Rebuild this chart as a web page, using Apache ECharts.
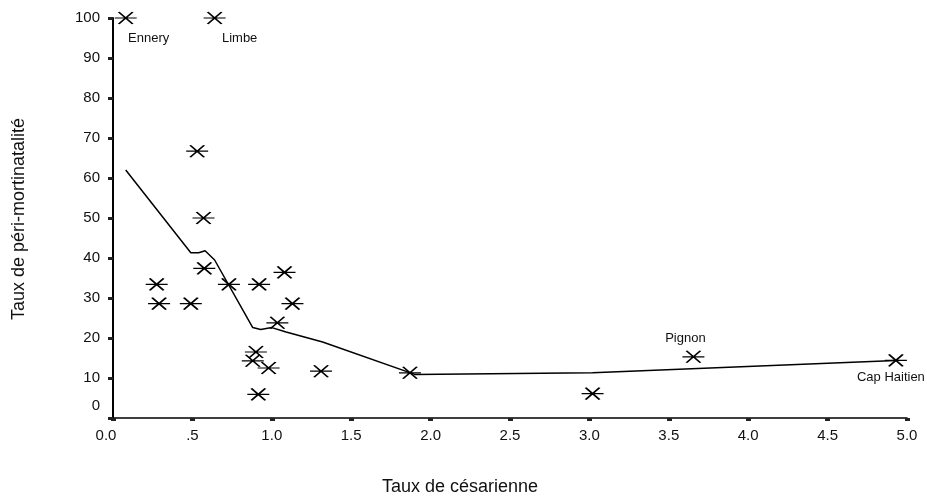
<!DOCTYPE html>
<html>
<head>
<meta charset="utf-8">
<script src="https://cdn.jsdelivr.net/npm/echarts@6/dist/echarts.min.js"></script>
<style>
html,body{margin:0;padding:0;background:#fff;}
#chart{width:927px;height:500px;}
</style>
</head>
<body>
<div id="chart"></div>
<script>
// ---- data ----
const xTickLabels = ['0.0', '.5', '1.0', '1.5', '2.0', '2.5', '3.0', '3.5', '4.0', '4.5', '5.0'];
const yTickLabels = ['0', '10', '20', '30', '40', '50', '60', '70', '80', '90', '100'];

// scatter points: caesarean rate (x) vs perinatal mortality rate (y)
const cesarienne = [0.08, 0.64, 0.53, 0.57, 0.575, 0.275, 0.29, 0.49, 0.73, 0.92, 1.08, 1.13, 1.035, 0.90, 0.88, 0.98, 0.915, 1.31, 1.87, 3.02, 3.655, 4.93];
const periMort   = [100, 100, 66.7, 50, 37.4, 33.4, 28.6, 28.6, 33.4, 33.4, 36.4, 28.6, 23.8, 16.5, 14.3, 12.5, 5.9, 11.7, 11.3, 6.1, 15.3, 14.4];
const communes   = ['Ennery', 'Limbe', '', '', '', '', '', '', '', '', '', '', '', '', '', '', '', '', '', '', 'Pignon', 'Cap Haitien'];

// smoothed fit curve
const fitX = [0.08, 0.49, 0.54, 0.58, 0.64, 0.88, 0.93, 1.0, 1.09, 1.32, 1.90, 3.02, 4.93];
const fitY = [62, 41.3, 41.3, 41.8, 39.5, 22.6, 22.1, 22.6, 21.5, 19.0, 10.9, 11.3, 14.4];

// ---- styling (label placement per named point) ----
const labelOffsets = {
  'Ennery': [23, 20],
  'Limbe': [25, 20],
  'Pignon': [-8, -18],
  'Cap Haitien': [-5, 17]
};

const FONT = '"Liberation Sans", Arial, Helvetica, sans-serif';
const markerPath = 'path://M0,6L22,6M4,0L18,12M4,12L18,0';

const scatterData = cesarienne.map((x, i) => {
  const n = communes[i];
  const item = { value: [x, periMort[i]], name: n };
  if (n) {
    item.label = { show: true, formatter: n, position: 'inside', offset: labelOffsets[n] };
  }
  return item;
});
const fitData = fitX.map((x, i) => [x, fitY[i]]);

const chart = echarts.init(document.getElementById('chart'), null, { renderer: 'canvas' });
chart.setOption({
  backgroundColor: '#ffffff',
  animation: false,
  grid: { left: 113, right: 20, top: 18, bottom: 82, containLabel: false },
  xAxis: {
    type: 'value', min: 0, max: 5, interval: 0.5,
    axisLine: { show: true, lineStyle: { color: '#000', width: 1.5 } },
    axisTick: { show: true, length: 3, lineStyle: { color: '#222', width: 5 } },
    splitLine: { show: false },
    axisLabel: {
      margin: 10, color: '#111', fontFamily: FONT, fontSize: 15,
      formatter: function (v) {
        const s = xTickLabels[Math.round(v / 0.5)];
        return v === 0 ? '{z|' + s + '}' : s;
      },
      rich: { z: { fontFamily: FONT, fontSize: 15, color: '#111', padding: [0, 14, 0, 0] } }
    }
  },
  yAxis: {
    type: 'value', min: 0, max: 100, interval: 10,
    axisLine: { show: true, lineStyle: { color: '#000', width: 2 } },
    axisTick: { show: true, length: 5, lineStyle: { color: '#222', width: 3 } },
    splitLine: { show: false },
    axisLabel: {
      margin: 13, color: '#111', fontFamily: FONT, fontSize: 15,
      formatter: function (v) {
        const s = yTickLabels[Math.round(v / 10)];
        return v === 0 ? '{z|' + s + '}' : s;
      },
      rich: { z: { fontFamily: FONT, fontSize: 15, color: '#111', padding: [0, 0, 24, 0] } }
    }
  },
  graphic: [
    {
      type: 'text', x: 460, y: 487,
      style: { text: 'Taux de césarienne', font: '18px ' + FONT, fill: '#111', textAlign: 'center', textVerticalAlign: 'middle' }
    },
    {
      type: 'text', x: 19, y: 219, rotation: Math.PI / 2,
      style: { text: 'Taux de péri-mortinatalité', font: '18px ' + FONT, fill: '#111', textAlign: 'center', textVerticalAlign: 'middle' }
    }
  ],
  series: [
    {
      type: 'line', data: fitData, showSymbol: false, symbol: 'none', smooth: false,
      lineStyle: { color: '#000', width: 1.5 }, z: 2, silent: true
    },
    {
      type: 'scatter', data: scatterData, symbol: markerPath, symbolSize: [22, 12],
      itemStyle: { color: 'rgba(0,0,0,0)', borderColor: '#000', borderWidth: 1.6, opacity: 1 },
      label: { show: false, color: '#111', fontFamily: FONT, fontSize: 13 },
      z: 3
    }
  ]
});
</script>
</body>
</html>
